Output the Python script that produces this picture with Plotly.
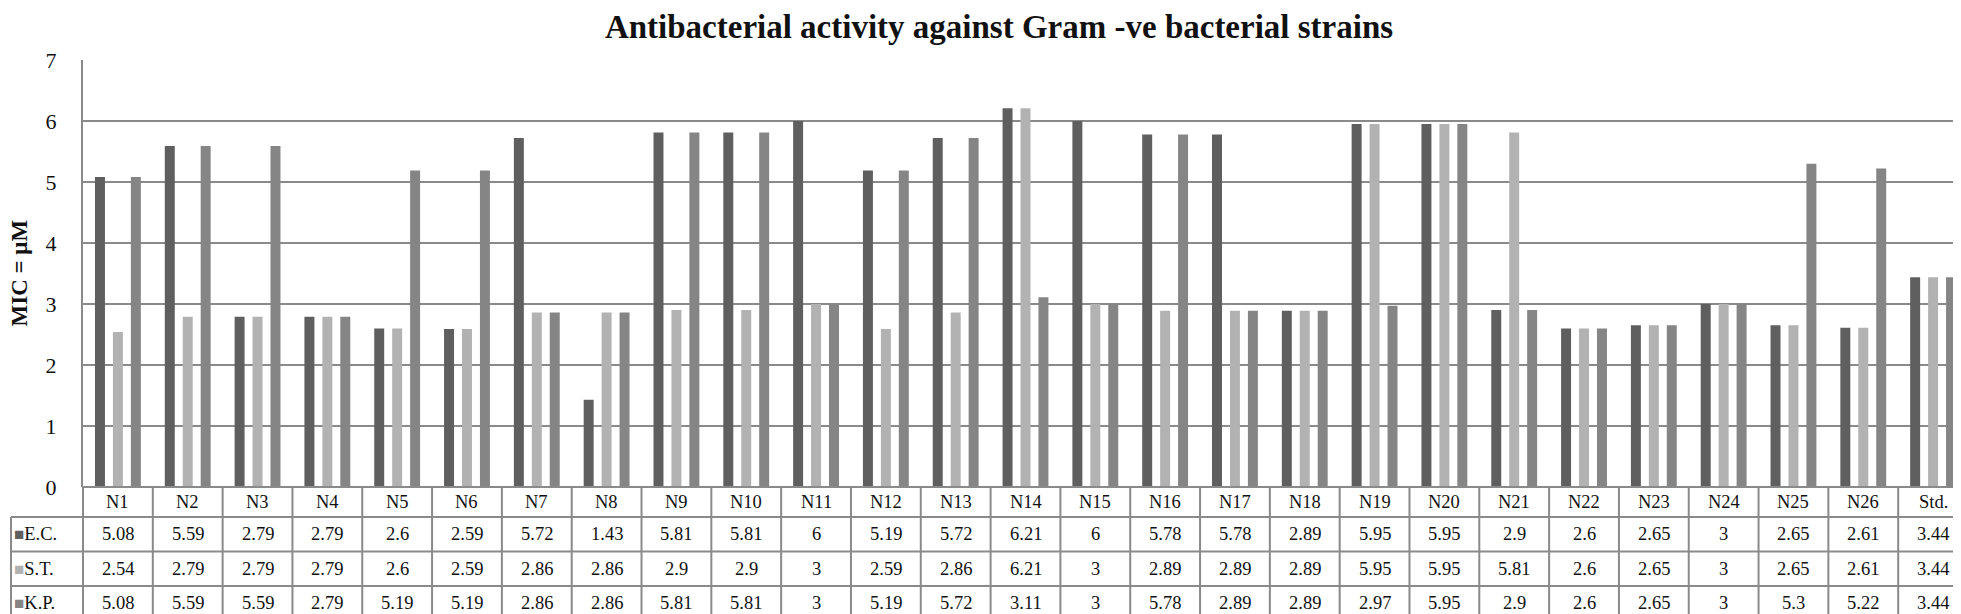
import plotly.graph_objects as go

categories = ["N1","N2","N3","N4","N5","N6","N7","N8","N9","N10","N11","N12","N13",
              "N14","N15","N16","N17","N18","N19","N20","N21","N22","N23","N24","N25","N26","Std."]
ec = [5.08,5.59,2.79,2.79,2.6,2.59,5.72,1.43,5.81,5.81,6,5.19,5.72,6.21,6,5.78,5.78,2.89,5.95,5.95,2.9,2.6,2.65,3,2.65,2.61,3.44]
st = [2.54,2.79,2.79,2.79,2.6,2.59,2.86,2.86,2.9,2.9,3,2.59,2.86,6.21,3,2.89,2.89,2.89,5.95,5.95,5.81,2.6,2.65,3,2.65,2.61,3.44]
kp = [5.08,5.59,5.59,2.79,5.19,5.19,2.86,2.86,5.81,5.81,3,5.19,5.72,3.11,3,5.78,2.89,2.89,2.97,5.95,2.9,2.6,2.65,3,5.3,5.22,3.44]
series_names = ["E.C.", "S.T.", "K.P."]
series_values = [ec, st, kp]
colors = ["#5f5f5f", "#b2b2b2", "#858585"]
y_ticks = [0, 1, 2, 3, 4, 5, 6, 7]

W, H = 1961, 614
L, R, T, B = 75, 1, 52, 135
plot_w = W - L - R
plot_h = H - T - B
FONT = "Liberation Serif"
LINE = "#8a8a8a"

def py(pix):  # pixel y -> paper y
    return (H - B - pix) / plot_h

def px(pix):  # pixel x -> paper x
    return (pix - L) / plot_w

fig = go.Figure()
for name, vals, col in zip(series_names, series_values, colors):
    fig.add_trace(go.Bar(x=categories, y=vals, name=name, marker=dict(color=col, line=dict(width=0)),
                         showlegend=False))

shapes = []
annotations = []
n = len(categories)
row_edges = [479, 509, 543.5, 578, 611.5]
lw = 2

def hline(x0, x1, yp):
    shapes.append(dict(type="line", xref="paper", yref="paper", x0=x0, x1=x1,
                       y0=py(yp), y1=py(yp), line=dict(color=LINE, width=lw), layer="above"))

def vline(xp, y0p, y1p):
    shapes.append(dict(type="line", xref="paper", yref="paper", x0=xp, x1=xp,
                       y0=py(y0p), y1=py(y1p), line=dict(color=LINE, width=lw), layer="above"))

hline(0, 1, row_edges[0])
for yy in row_edges[1:]:
    hline(px(3), 1, yy)
vline(px(3), row_edges[1], row_edges[-1])
vline(0, row_edges[0], row_edges[-1])
for i in range(1, n + 1):
    vline(i / n, row_edges[0], row_edges[-1])

tfont = dict(family=FONT, size=18.5, color="#111")
# header labels
hy = py((row_edges[0] + row_edges[1]) / 2)
for c in categories:
    annotations.append(dict(x=c, xref="x", y=hy, yref="paper", text=c, showarrow=False,
                            font=tfont, xanchor="center", yanchor="middle"))
# data rows
for r, (name, vals, col) in enumerate(zip(series_names, series_values, colors)):
    yc = py((row_edges[r + 1] + row_edges[r + 2]) / 2)
    annotations.append(dict(x=px(4), xref="paper", y=yc, yref="paper",
                            text=f'<span style="color:{col};font-size:17px">■</span>{name}',
                            showarrow=False, font=tfont, xanchor="left", yanchor="middle"))
    for c, v in zip(categories, vals):
        annotations.append(dict(x=c, xref="x", y=yc, yref="paper", text=f"{v:g}", showarrow=False,
                                font=tfont, xanchor="center", yanchor="middle"))

# y axis title
annotations.append(dict(x=px(11), xref="paper", y=0.5, yref="paper", text="<b>MIC = μM</b>",
                        textangle=-90, showarrow=False, font=dict(family=FONT, size=23, color="#111"),
                        xanchor="center", yanchor="middle"))

fig.update_layout(
    width=W, height=H,
    margin=dict(l=L, r=R, t=T, b=B),
    paper_bgcolor="white", plot_bgcolor="white",
    barmode="group", bargap=0.229, bargroupgap=0.444,
    title=dict(text="<b>Antibacterial activity against Gram -ve bacterial strains</b>",
               x=991 / W, xref="container", xanchor="center",
               y=1 - 18 / H, yref="container", yanchor="middle",
               font=dict(family=FONT, size=33, color="#111")),
    xaxis=dict(range=[-0.5, n - 0.5], showticklabels=False, showgrid=False, zeroline=False,
               showline=False, ticks=""),
    yaxis=dict(range=[0, 7], tickvals=y_ticks, ticktext=[str(t) for t in y_ticks],
               showgrid=True, gridcolor=LINE, gridwidth=2, zeroline=False,
               showline=True, linecolor=LINE, linewidth=2, ticks="",
               ticklabelstandoff=20,
               tickfont=dict(family=FONT, size=22, color="#111")),
    shapes=shapes, annotations=annotations,
)

fig.write_html("out.html")
